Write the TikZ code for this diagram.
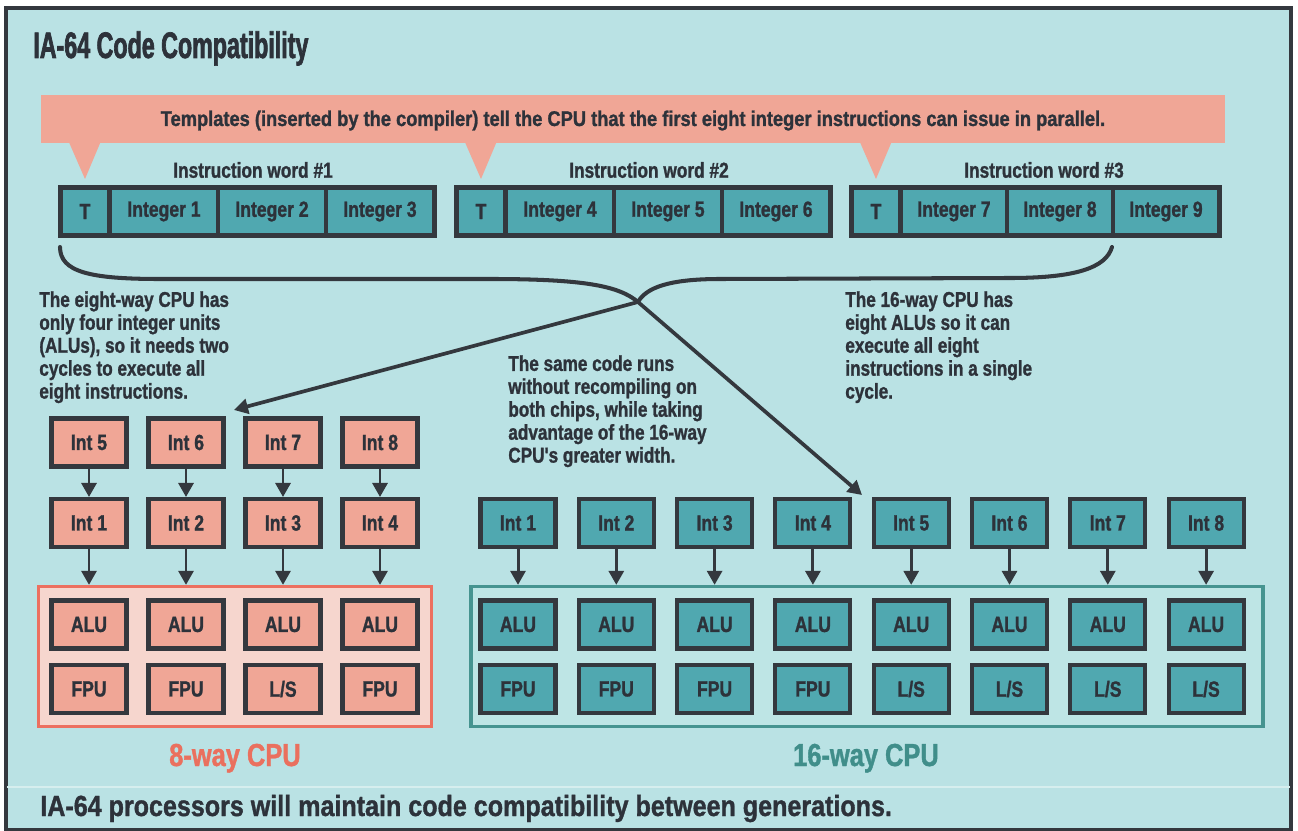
\documentclass[tikz,border=0pt]{standalone}
\usepackage{fontspec}
\setmainfont{Liberation Sans}
\newfontfamily\cond{Liberation Sans Bold}[FakeStretch=0.8, FakeBold=1.2]
\newfontfamily\condW{Liberation Sans Bold}[FakeStretch=0.86, FakeBold=1.2]
\newfontfamily\condT{Liberation Sans Bold}[FakeStretch=0.63, FakeBold=1.8]
\usetikzlibrary{arrows.meta}
\definecolor{bg}{RGB}{186,226,228}
\definecolor{pinkfill}{RGB}{240,166,150}
\definecolor{tealfill}{RGB}{80,168,176}
\definecolor{outline}{RGB}{52,56,62}
\definecolor{eightborder}{RGB}{236,112,96}
\definecolor{eightfill}{RGB}{246,214,206}
\definecolor{sixborder}{RGB}{70,148,144}
\definecolor{sixfill}{RGB}{190,229,229}
\definecolor{ink}{RGB}{45,50,58}
\definecolor{labeleight}{RGB}{234,112,94}
\definecolor{labelsix}{RGB}{64,142,138}
\definecolor{sepline}{RGB}{214,238,238}
\newcommand\boxfont{\cond\fontsize{12.5pt}{14pt}\selectfont}
\newcommand\bodyfont{\cond\fontsize{12.2pt}{13.05pt}\selectfont}
\newcommand\bannerfont{\condW\fontsize{12.1pt}{13pt}\selectfont}
\newcommand\wordfont{\cond\fontsize{12.3pt}{14pt}\selectfont}
\newcommand\titlefont{\condT\fontsize{21pt}{24pt}\selectfont}
\newcommand\capfont{\condW\fontsize{16.6pt}{18pt}\selectfont}
\newcommand\cpufont{\cond\fontsize{18.1pt}{20pt}\selectfont}
\tikzset{
  box/.style={draw=outline, line width=2.3pt, minimum width=1.5cm, minimum height=0.96cm, inner sep=0pt, font=\boxfont, text=ink},
  pbox/.style={box, fill=pinkfill},
  tbox/.style={box, fill=tealfill},
  cell/.style={draw=outline, line width=1.7pt, fill=tealfill, minimum height=0.92cm, inner sep=0pt, font=\boxfont, text=ink},
  wordframe/.style={draw=outline, line width=2.5pt},
  arr/.style={draw=outline, line width=1.7pt, -{Triangle[length=0.28cm,width=0.3cm]}},
  brace/.style={draw=outline, line width=2.3pt, line cap=round},
  body/.style={font=\bodyfont, text=ink, align=left, inner sep=0pt, anchor=north west},
  cont/.style={line width=1.9pt, minimum width=7.86cm, minimum height=2.8cm, inner sep=0pt},
}
\begin{document}
\begin{tikzpicture}[x=0.02cm,y=-0.02cm]
\useasboundingbox (0,0) rectangle (1298,831);
\fill[white] (0,0) rectangle (1298,831);
\fill[bg] (6,8) rectangle (1291,831);
\draw[outline, line width=1.8pt] (6,8) rectangle (1291,830);
\draw[sepline, line width=1.2pt] (7,787) -- (1290,787);

% title
\node[font=\titlefont, text=ink, anchor=base west, inner sep=0pt] (title) at (33,58) {IA-64 Code Compatibility};

% banner
\fill[pinkfill] (41,95) rectangle (1225,143);
\coordinate (tip1) at (85,179);
\coordinate (tip2) at (481,179);
\coordinate (tip3) at (876,179);
\foreach \t in {tip1,tip2,tip3}{
  \fill[pinkfill] ([xshift=-0.34cm,yshift=0.02cm]\t |- 0,141) -- (\t) -- ([xshift=0.32cm]\t |- 0,141) -- cycle;
}
\node[font=\bannerfont, text=ink, anchor=base, inner sep=0pt] (banner) at (633,126) {Templates (inserted by the compiler) tell the CPU that the first eight integer instructions can issue in parallel.};

% instruction words
\node[font=\wordfont, text=ink, inner sep=0pt] (lw1) at (253,170) {Instruction word \#1};
\node[font=\wordfont, text=ink, inner sep=0pt] (lw2) at (649,170) {Instruction word \#2};
\node[font=\wordfont, text=ink, inner sep=0pt] (lw3) at (1044,170) {Instruction word \#3};

\node[cell, minimum width=0.93cm] (w1t) at (85,211.5) {T};
\node[cell, minimum width=2.13cm] (w1a) at (164,211.5) {Integer 1};
\node[cell, minimum width=2.13cm] (w1b) at (272,211.5) {Integer 2};
\node[cell, minimum width=2.13cm] (w1c) at (380,211.5) {Integer 3};
\draw[wordframe] (w1t.north west) rectangle (w1c.south east);

\node[cell, minimum width=0.93cm] (w2t) at (481,211.5) {T};
\node[cell, minimum width=2.13cm] (w2a) at (560,211.5) {Integer 4};
\node[cell, minimum width=2.13cm] (w2b) at (668,211.5) {Integer 5};
\node[cell, minimum width=2.13cm] (w2c) at (776,211.5) {Integer 6};
\draw[wordframe] (w2t.north west) rectangle (w2c.south east);

\node[cell, minimum width=0.93cm] (w3t) at (876,211.5) {T};
\node[cell, minimum width=2.09cm] (w3a) at (954,211.5) {Integer 7};
\node[cell, minimum width=2.09cm] (w3b) at (1060,211.5) {Integer 8};
\node[cell, minimum width=2.09cm] (w3c) at (1166,211.5) {Integer 9};
\draw[wordframe] (w3t.north west) rectangle (w3c.south east);

% texts
\node[body] (tleft) at (39,291) {The eight-way CPU has\\only four integer units\\(ALUs), so it needs two\\cycles to execute all\\eight instructions.};
\node[body] (tmid) at (508,355) {The same code runs\\without recompiling on\\both chips, while taking\\advantage of the 16-way\\CPU's greater width.};
\node[body] (tright) at (845,291) {The 16-way CPU has\\eight ALUs so it can\\execute all eight\\instructions in a single\\cycle.};

% containers
\node[cont, draw=eightborder, fill=eightfill] (c8) at (235,656.5) {};
\node[cont, draw=sixborder, fill=sixfill, minimum width=15.84cm] (c16) at (867,656.5) {};

% 8-way CPU
\foreach \i/\x/\u in {1/89/FPU,2/186/FPU,3/283/{L/S},4/380/FPU}{
  \pgfmathtruncatemacro\j{\i+4}
  \node[pbox] (f\i) at (\x,442.5) {Int \j};
  \node[pbox] (e\i) at (\x,523) {Int \i};
  \node[pbox] (ea\i) at (\x,624.5) {ALU};
  \node[pbox] (eu\i) at (\x,689) {\u};
  \draw[arr] (f\i) -- (e\i);
  \draw[arr] (e\i.south) -- (e\i.south |- c8.north);
}

% 16-way CPU
\foreach \i/\x/\u in {1/518/FPU,2/616.3/FPU,3/714.6/FPU,4/812.9/FPU,5/911.2/{L/S},6/1009.5/{L/S},7/1107.8/{L/S},8/1206.1/{L/S}}{
  \node[tbox] (s\i) at (\x,523) {Int \i};
  \node[tbox] (sa\i) at (\x,624.5) {ALU};
  \node[tbox] (su\i) at (\x,689) {\u};
  \draw[arr] (s\i.south) -- (s\i.south |- c16.north);
}

% braces and arrows
\coordinate (bl) at (60,247);
\coordinate (br) at (1112,247);
\coordinate (X) at (638,302);
\coordinate (a8) at (234,410);
\coordinate (a16) at (862,495);
\draw[brace] (bl) .. controls (60,272) and (90,279) .. (160,279) -- (490,279) .. controls (585,279) and (619,286) .. (X);
\draw[brace] (br) .. controls (1106,268) and (1075,278) .. (1010,278) -- (720,279) .. controls (668,279) and (646,288) .. (X);
\draw[arr, line width=2.1pt] (X) -- (a8);
\draw[arr, line width=2.1pt] (X) -- (a16);

% CPU labels
\node[font=\cpufont, text=labeleight, anchor=base, inner sep=0pt] (l8) at (235,766) {8-way CPU};
\node[font=\cpufont, text=labelsix, anchor=base, inner sep=0pt] (l16) at (866,766) {16-way CPU};

% caption
\node[font=\capfont, text=ink, anchor=base west, inner sep=0pt] (cap) at (40,816) {IA-64 processors will maintain code compatibility between generations.};
\end{tikzpicture}
\end{document}
